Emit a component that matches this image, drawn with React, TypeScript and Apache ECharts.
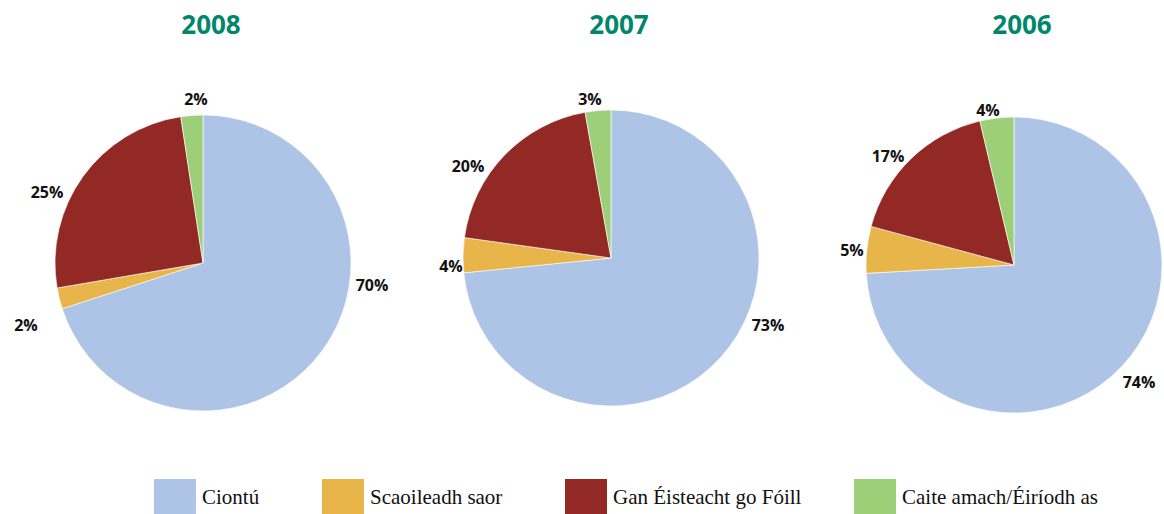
import React, { useEffect, useRef } from "react";
import * as echarts from "echarts";

const categories = ["Ciontú", "Scaoileadh saor", "Gan Éisteacht go Fóill", "Caite amach/Éiríodh as"];
const years = ["2008", "2007", "2006"];
const values2008 = [70.0, 2.3, 25.3, 2.4];
const values2007 = [73.4, 3.8, 20.0, 2.8];
const values2006 = [74.1, 5.1, 17.1, 3.7];
const yearValues = [values2008, values2007, values2006];

const colors = ["#aec4e7", "#e8b54b", "#922925", "#9dcf79"];

// layout (pixels)
const pieCenters = [[203, 263], [611, 258], [1014, 265]];
const pieRadius = 148;
const labelPositions = [
  [[372, 285], [26, 325], [47, 192], [196, 99]],
  [[768, 325], [451, 266], [468, 166], [590, 99]],
  [[1139, 382], [852, 250], [888, 156], [988, 110]],
];
const legendLefts = [147, 315, 558, 847];

export default function App() {
  const ref = useRef<HTMLDivElement>(null);
  useEffect(() => {
    document.body.style.margin = "0";
    const chart = echarts.init(ref.current!, null, { renderer: "svg" });
    const series = years.map((y, i) => ({
      type: "pie",
      name: y,
      center: pieCenters[i],
      radius: pieRadius,
      startAngle: 90,
      clockwise: true,
      avoidLabelOverlap: false,
      silent: true,
      itemStyle: { borderColor: "#ffffff", borderWidth: 0.6 },
      label: {
        show: true,
        position: "outside",
        formatter: (p: any) => Math.round(p.value) + "%",
        fontFamily: "Open Sans",
        fontWeight: "bold",
        fontSize: 16,
        color: "#111111",
      },
      labelLine: { show: false },
      labelLayout: (p: any) => {
        const pos = labelPositions[i][p.dataIndex];
        return { x: pos[0], y: pos[1], align: "center", verticalAlign: "middle" };
      },
      data: categories.map((c, k) => ({ name: c, value: yearValues[i][k], itemStyle: { color: colors[k] } })),
    }));
    const titles = years.map((y, i) => ({
      text: y,
      left: pieCenters[i][0] + 3,
      top: 6,
      textAlign: "center",
      textStyle: { fontFamily: "Open Sans", fontWeight: "bold", fontSize: 26, color: "#00876b" },
    }));
    const legends = categories.map((c, k) => ({
      data: [c],
      left: legendLefts[k],
      top: 472,
      itemWidth: 44,
      itemHeight: 37,
      icon: "rect",
      selectedMode: false,
      textStyle: { fontFamily: "Liberation Serif", fontSize: 21, color: "#111111" },
    }));
    chart.setOption({
      animation: false,
      color: colors,
      title: titles,
      legend: legends,
      series,
    });
    return () => chart.dispose();
  }, []);
  return <div ref={ref} style={{ width: 1164, height: 514 }} />;
}
